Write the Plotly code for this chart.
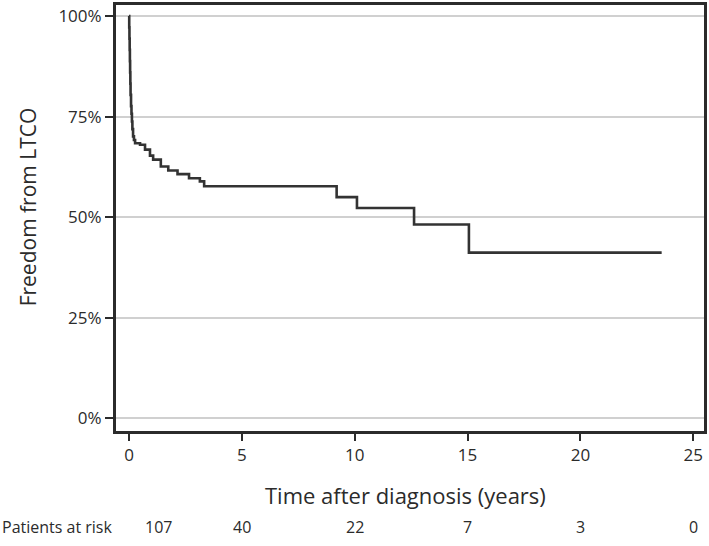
import plotly.graph_objects as go

# Kaplan-Meier estimate (years, percent free from LTCO)
time_years = [0, 0.01, 0.02, 0.03, 0.04, 0.05, 0.06, 0.07, 0.09, 0.11, 0.13, 0.15, 0.18, 0.22, 0.27,
              0.49, 0.71, 0.93, 1.07, 1.41, 1.74, 2.15, 2.66, 3.14, 3.33,
              9.2, 10.1, 12.63, 15.06, 23.6]
survival_pct = [100, 97.2, 94.4, 91.6, 88.8, 86.0, 83.2, 80.4, 77.6, 75.7, 73.8, 71.9, 70.1, 69.2, 68.4,
                68.0, 66.8, 65.3, 64.3, 62.6, 61.6, 60.7, 59.7, 58.9, 57.7,
                55.0, 52.3, 48.2, 41.2, 41.2]

x_ticks = [0, 5, 10, 15, 20, 25]
y_ticks = [0, 25, 50, 75, 100]
y_tick_labels = ["0%", "25%", "50%", "75%", "100%"]
at_risk = [107, 40, 22, 7, 3, 0]

FONT = "Open Sans"
INK = "#2b2b2b"

fig = go.Figure()
fig.add_trace(go.Scatter(
    x=time_years, y=survival_pct, mode="lines",
    line=dict(color="#333333", width=2.6, shape="hv"),
    hoverinfo="skip", showlegend=False,
))

fig.update_layout(
    width=709, height=546,
    margin=dict(l=115, r=2, t=2, b=114),
    paper_bgcolor="white", plot_bgcolor="white",
    font=dict(family=FONT, color=INK),
    showlegend=False,
    xaxis=dict(
        range=[-0.62, 25.52], tickvals=x_ticks, ticktext=[str(v) for v in x_ticks],
        ticks="outside", ticklen=7,
        tickwidth=1.6, tickcolor=INK, showgrid=False, zeroline=False,
        showline=True, mirror=True, linecolor=INK, linewidth=2,
        tickfont=dict(size=17, family=FONT, color=INK),
    ),
    yaxis=dict(
        range=[-3.4, 103], tickvals=y_ticks, ticktext=y_tick_labels, ticks="outside",
        ticklen=8, tickwidth=1.6, tickcolor=INK,
        showgrid=True, gridcolor="#d0d0d0", gridwidth=1.6, zeroline=False,
        showline=True, mirror=True, linecolor=INK, linewidth=2,
        tickfont=dict(size=17, family=FONT, color=INK),
    ),
    shapes=[dict(type="rect", xref="paper", yref="paper", x0=0, x1=1, y0=0, y1=1,
                 line=dict(color=INK, width=2), fillcolor="rgba(0,0,0,0)", layer="above")],
)

annotations = [
    dict(text="Time after diagnosis (years)", xref="paper", yref="paper",
         x=(406 - 115) / 592, y=(432 - 495) / 430, showarrow=False,
         font=dict(size=22, family=FONT, color=INK), xanchor="center", yanchor="middle"),
    dict(text="Freedom from LTCO", xref="paper", yref="paper",
         x=(28 - 115) / 592, y=(432 - 206) / 430, showarrow=False, textangle=-90,
         font=dict(size=21, family=FONT, color=INK), xanchor="center", yanchor="middle"),
    dict(text="Patients at risk", xref="paper", yref="paper",
         x=(0 - 115) / 592, y=(432 - 527) / 430, showarrow=False,
         font=dict(size=16, family=FONT, color=INK), xanchor="left", yanchor="middle"),
]
for i, (xv, n) in enumerate(zip(x_ticks, at_risk)):
    annotations.append(dict(text=str(n), xref="x", yref="paper", x=xv,
                            y=(432 - 527) / 430, showarrow=False,
                            xshift=30 if i == 0 else 0,
                            font=dict(size=16, family=FONT, color=INK),
                            xanchor="center", yanchor="middle"))
fig.update_layout(annotations=annotations)

fig.write_html("out.html", config={"displayModeBar": False},
               post_script="document.body.style.margin='0';")
